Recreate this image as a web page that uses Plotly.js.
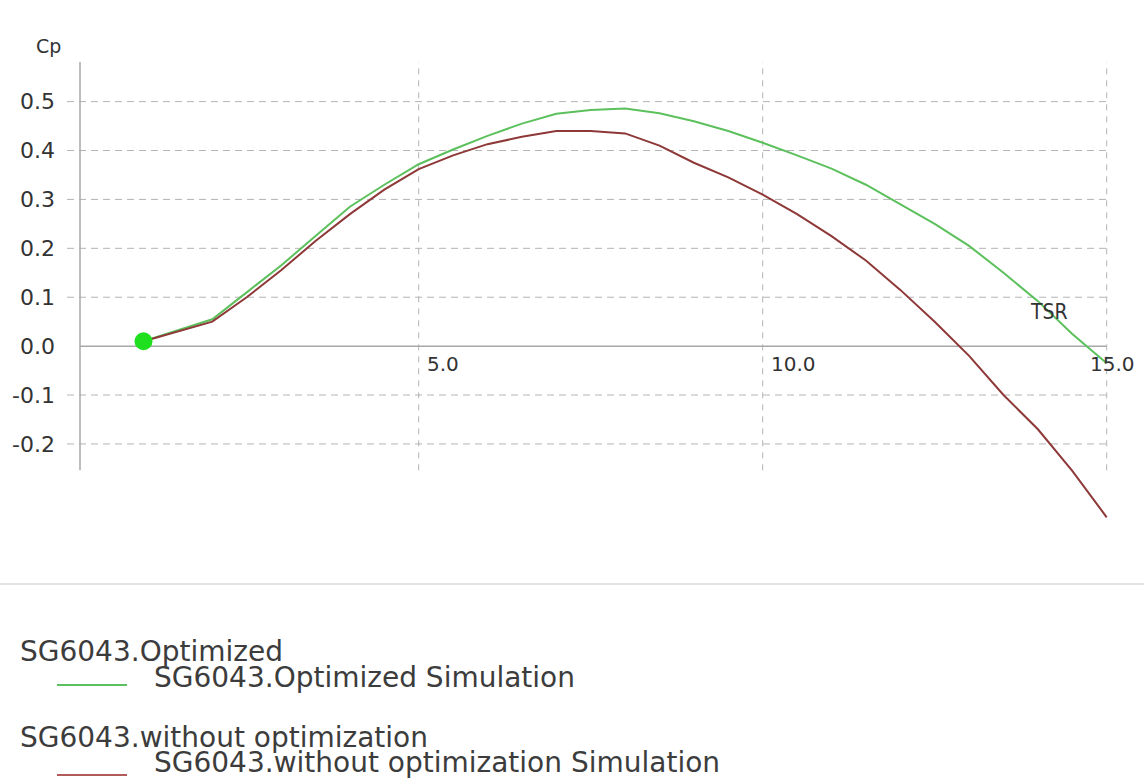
<!DOCTYPE html>
<html>
<head>
<meta charset="utf-8">
<script src="https://cdn.plot.ly/plotly-3.0.1.min.js"></script>
<style>
  html, body { margin: 0; padding: 0; background: #ffffff; }
  #chart { width: 1144px; height: 784px; }
</style>
</head>
<body>
<div id="chart"></div>
<script>
// ---- data ----
const tsr = [1, 2, 2.5, 3, 3.5, 4, 4.5, 5, 5.5, 6, 6.5, 7, 7.5, 8, 8.5, 9, 9.5, 10, 10.5, 11, 11.5, 12, 12.5, 13, 13.5, 14, 14.5, 15];
const cpOptimized = [0.01, 0.055, 0.11, 0.165, 0.225, 0.285, 0.33, 0.372, 0.402, 0.43, 0.455, 0.475, 0.483, 0.486, 0.476, 0.46, 0.44, 0.416, 0.39, 0.363, 0.33, 0.29, 0.25, 0.205, 0.15, 0.092, 0.025, -0.035];
const cpWithout   = [0.01, 0.05, 0.1, 0.155, 0.215, 0.27, 0.32, 0.362, 0.39, 0.413, 0.428, 0.44, 0.44, 0.435, 0.41, 0.375, 0.345, 0.31, 0.27, 0.225, 0.175, 0.115, 0.05, -0.02, -0.1, -0.17, -0.255, -0.35];

const yTickVals = [-0.2, -0.1, 0.0, 0.1, 0.2, 0.3, 0.4, 0.5];
const yTickText = ['-0.2', '-0.1', '0.0', '0.1', '0.2', '0.3', '0.4', '0.5'];
const xTickVals = [5, 10, 15];
const xTickText = ['5.0', '10.0', '15.0'];

const seriesNames = ['SG6043.Optimized', 'SG6043.without optimization'];
const simNames = ['SG6043.Optimized Simulation', 'SG6043.without optimization Simulation'];
const yTitle = 'Cp';
const xTitle = 'TSR';

// ---- layout geometry ----
const W = 1144, H = 784;
const M = { l: 67, r: 34, t: 40, b: 254 };
const plotW = W - M.l - M.r, plotH = H - M.t - M.b;
const px = x => (x - M.l) / plotW;            // pixel -> paper x
const py = y => (H - M.b - y) / plotH;          // pixel -> paper y

const xRange = [-0.112, 15.048];
const yRange = [-0.376, 0.626];
const gridTop = 0.581, gridBottom = -0.254, axisX = 0.077;

const green = '#5cc05c', red = '#8e3838';
const gridColor = '#b4b4b4';
const txtColor = '#333333';

const traces = [
  { x: tsr, y: cpOptimized, type: 'scatter', mode: 'lines', name: simNames[0],
    line: { color: green, width: 2 }, hoverinfo: 'skip' },
  { x: tsr, y: cpWithout, type: 'scatter', mode: 'lines', name: simNames[1],
    line: { color: red, width: 2 }, hoverinfo: 'skip' },
  { x: [tsr[0]], y: [cpOptimized[0]], type: 'scatter', mode: 'markers', cliponaxis: false,
    marker: { color: '#1fe01f', size: 18 }, hoverinfo: 'skip', showlegend: false }
];

const shapes = [];
// horizontal dashed gridlines
yTickVals.forEach(v => {
  if (v === 0) return;
  shapes.push({ type: 'line', xref: 'x', yref: 'y', x0: xRange[0], x1: 15.02, y0: v, y1: v,
    line: { color: gridColor, width: 1, dash: '7px,5px' }, layer: 'below' });
});
// vertical dashed gridlines
xTickVals.forEach(v => {
  shapes.push({ type: 'line', xref: 'x', yref: 'y', x0: v, x1: v, y0: gridBottom, y1: gridTop,
    line: { color: gridColor, width: 1, dash: '6px,6px' }, layer: 'below' });
});
// y axis line
shapes.push({ type: 'line', xref: 'x', yref: 'y', x0: axisX, x1: axisX, y0: gridBottom, y1: gridTop,
  line: { color: '#a8a8a8', width: 1.5 }, layer: 'below' });
// x axis line
shapes.push({ type: 'line', xref: 'x', yref: 'y', x0: axisX, x1: 15, y0: 0, y1: 0,
  line: { color: '#a8a8a8', width: 1.5 }, layer: 'below' });
// separator between plot and legend
shapes.push({ type: 'line', xref: 'paper', yref: 'paper', x0: px(0), x1: px(W), y0: py(584), y1: py(584),
  line: { color: '#e2e2e2', width: 2 } });
// legend samples
shapes.push({ type: 'line', xref: 'paper', yref: 'paper', x0: px(57), x1: px(127), y0: py(685), y1: py(685),
  line: { color: green, width: 2 } });
shapes.push({ type: 'line', xref: 'paper', yref: 'paper', x0: px(57), x1: px(127), y0: py(775), y1: py(775),
  line: { color: '#b05a5a', width: 2 } });

const annotations = [];
xTickVals.forEach((v, i) => {
  const last = i === xTickVals.length - 1;
  annotations.push({ xref: 'x', yref: 'y', x: v, y: 0, text: xTickText[i], showarrow: false,
    xanchor: last ? 'center' : 'left', yanchor: 'top', xshift: 6, yshift: -4,
    font: { family: 'DejaVu Sans', size: 20, color: txtColor } });
});
annotations.push({ xref: 'paper', yref: 'paper', x: px(48), y: py(46), text: yTitle, showarrow: false,
  xanchor: 'center', yanchor: 'middle', font: { family: 'DejaVu Sans', size: 19, color: txtColor } });
annotations.push({ xref: 'x', yref: 'y', x: 14.16, y: 0.07, text: xTitle, showarrow: false,
  xanchor: 'center', yanchor: 'middle', font: { family: 'DejaVu Sans Condensed, DejaVu Sans', size: 21, color: txtColor } });

const legFont = { family: 'DejaVu Sans', size: 28, color: '#3c3c3c' };
annotations.push({ xref: 'paper', yref: 'paper', x: px(18), y: py(652), text: seriesNames[0], showarrow: false,
  xanchor: 'left', yanchor: 'middle', font: legFont });
annotations.push({ xref: 'paper', yref: 'paper', x: px(152), y: py(677), text: simNames[0], showarrow: false,
  xanchor: 'left', yanchor: 'middle', font: legFont });
annotations.push({ xref: 'paper', yref: 'paper', x: px(18), y: py(737), text: seriesNames[1], showarrow: false,
  xanchor: 'left', yanchor: 'middle', font: legFont });
annotations.push({ xref: 'paper', yref: 'paper', x: px(152), y: py(762), text: simNames[1], showarrow: false,
  xanchor: 'left', yanchor: 'middle', font: legFont });

const layout = {
  width: W, height: H,
  margin: M,
  paper_bgcolor: '#ffffff', plot_bgcolor: 'rgba(0,0,0,0)',
  showlegend: false,
  xaxis: { range: xRange, showgrid: false, zeroline: false, showline: false,
    showticklabels: false, ticks: '', fixedrange: true },
  yaxis: { range: yRange, showgrid: false, zeroline: false, showline: false,
    tickmode: 'array', tickvals: yTickVals, ticktext: yTickText, ticks: '',
    ticklabelstandoff: 11,
    tickfont: { family: 'DejaVu Sans', size: 22, color: txtColor }, fixedrange: true },
  shapes: shapes,
  annotations: annotations
};

Plotly.newPlot('chart', traces, layout, { displayModeBar: false, staticPlot: true });
</script>
</body>
</html>
